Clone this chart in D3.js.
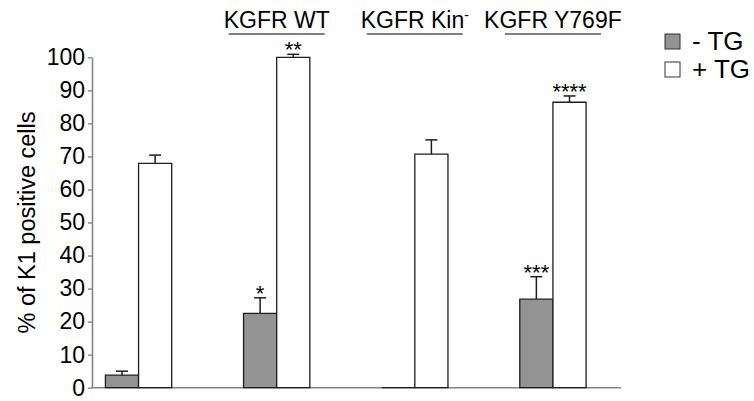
<!DOCTYPE html>
<html>
<head>
<meta charset="utf-8">
<script src="https://cdn.jsdelivr.net/npm/d3@7"></script>
<style>
  html, body { margin: 0; padding: 0; background: #fff; }
  svg { display: block; font-family: "Liberation Sans", Arial, sans-serif; }
</style>
</head>
<body>
<svg id="chart" width="754" height="401"></svg>
<script>
// K1 positive cells bar chart — grouped bars (-TG / +TG) with upward error bars and star marks.
var groups = ["Control", "KGFR WT", "KGFR Kin", "KGFR Y769F"];
var groupLabels = ["", "KGFR WT", "KGFR Kin", "KGFR Y769F"];
var series = ["- TG", "+ TG"];
var minusTG = [3.8, 22.5, 0, 26.8];
var minusErr = [1.2, 4.7, 0, 6.8];
var plusTG = [67.9, 100, 70.7, 86.4];
var plusErr = [2.5, 0.9, 4.3, 1.9];
var minusStars = ["", "*", "", "***"];
var plusStars = ["", "**", "", "****"];
var yTicks = [0, 10, 20, 30, 40, 50, 60, 70, 80, 90, 100];

(function () {
  "use strict";

  var FILL = { "- TG": "#939393", "+ TG": "#ffffff" };
  var STROKE = "#1e1e1e", AXIS = "#858585";
  var left = 92, right = 621, top = 57.3, bottom = 387.7;

  var svg = d3.select("#chart");

  var y = d3.scaleLinear().domain([0, 100]).range([bottom, top]);
  var x0 = d3.scaleBand().domain(groups).range([69.5, 622]).paddingInner(0.52).paddingOuter(0.26);
  var x1 = d3.scaleBand().domain(series).range([0, x0.bandwidth()]);

  // 데이터 → 막대 목록
  var bars = [];
  groups.forEach(function (g, i) {
    bars.push({ g: g, s: "- TG", v: minusTG[i], e: minusErr[i], star: minusStars[i] });
    bars.push({ g: g, s: "+ TG", v: plusTG[i], e: plusErr[i], star: plusStars[i] });
  });

  // y axis
  var yAxis = svg.append("g").attr("transform", "translate(" + left + ",0)")
    .call(d3.axisLeft(y).tickValues(yTicks).tickSize(4).tickPadding(3).tickSizeOuter(0));
  yAxis.select(".domain").attr("stroke", AXIS).attr("stroke-width", 1.6);
  yAxis.selectAll(".tick line").attr("stroke", AXIS).attr("stroke-width", 1.4);
  yAxis.selectAll(".tick text").attr("fill", "#000").style("font-size", "23px")
    .style("font-family", "'Liberation Sans', Arial, sans-serif");

  // x axis line
  svg.append("line").attr("x1", left).attr("x2", right).attr("y1", y(0)).attr("y2", y(0))
    .attr("stroke", AXIS).attr("stroke-width", 1.6);

  // bars (path so a zero bar still shows as a line)
  var bLayer = svg.append("g");
  bars.forEach(function (b) {
    var xa = x0(b.g) + x1(b.s), xb = xa + x1.bandwidth();
    var y0 = y(0), yv = y(b.v);
    bLayer.append("path")
      .attr("d", "M" + xa + "," + y0 + " V" + yv + " H" + xb + " V" + y0 + " Z")
      .attr("fill", FILL[b.s]).attr("stroke", STROKE).attr("stroke-width", 1.3);
    var cx = xa + x1.bandwidth() / 2;
    if (b.e > 0) {
      var ye = y(b.v + b.e);
      bLayer.append("line").attr("x1", cx).attr("x2", cx).attr("y1", yv).attr("y2", ye)
        .attr("stroke", STROKE).attr("stroke-width", 1.5);
      bLayer.append("line").attr("x1", cx - 6).attr("x2", cx + 6).attr("y1", ye).attr("y2", ye)
        .attr("stroke", STROKE).attr("stroke-width", 1.5);
    }
    if (b.star) {
      bLayer.append("text").attr("x", cx).attr("y", y(b.v + b.e) + 3)
        .attr("text-anchor", "middle").style("font-size", "22px").text(b.star);
    }
  });

  // group labels with underline
  groupLabels.forEach(function (lab, i) {
    if (!lab) return;
    var cx = x0(groups[i]) + x0.bandwidth() / 2;
    var t = svg.append("text").attr("x", cx).attr("y", 28).attr("text-anchor", "middle")
      .style("font-size", "23px").text(lab);
    if (groups[i] === "KGFR Kin") {
      t.append("tspan").attr("dy", -8).style("font-size", "14px").text("-");
    }
    svg.append("line").attr("x1", cx - 48).attr("x2", cx + 48).attr("y1", 34).attr("y2", 34)
      .attr("stroke", "#555").attr("stroke-width", 1.5);
  });

  // y label
  svg.append("text").attr("transform", "translate(35," + ((top + bottom) / 2) + ") rotate(-90)")
    .attr("text-anchor", "middle").style("font-size", "23.5px").text("% of K1 positive cells");

  // legend
  var lg = svg.append("g").attr("transform", "translate(665,0)");
  series.forEach(function (s, i) {
    var row = lg.append("g").attr("transform", "translate(0," + (34 + i * 28) + ")");
    row.append("rect").attr("width", 15).attr("height", 15)
      .attr("fill", FILL[s]).attr("stroke", "#333").attr("stroke-width", 1);
    row.append("text").attr("x", 27).attr("y", 16).style("font-size", "26px").text(s);
  });
})();
</script>
</body>
</html>
